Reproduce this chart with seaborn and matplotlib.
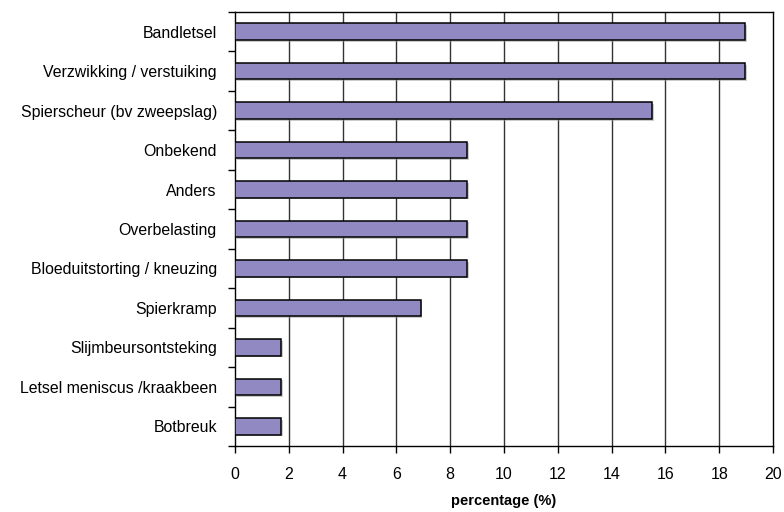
import matplotlib
matplotlib.use("Agg")
import matplotlib.pyplot as plt
import matplotlib.patheffects as pe
import seaborn as sns
import pandas as pd
import numpy as np

categories = [
    "Bandletsel",
    "Verzwikking / verstuiking",
    "Spierscheur (bv zweepslag)",
    "Onbekend",
    "Anders",
    "Overbelasting",
    "Bloeduitstorting / kneuzing",
    "Spierkramp",
    "Slijmbeursontsteking",
    "Letsel meniscus /kraakbeen",
    "Botbreuk",
]
percentages = [18.97, 18.97, 15.52, 8.62, 8.62, 8.62, 8.62, 6.90, 1.72, 1.72, 1.72]
x_ticks = [0, 2, 4, 6, 8, 10, 12, 14, 16, 18, 20]

df = pd.DataFrame({"letsel": categories, "percentage": percentages})

sns.set_theme(style="white")
plt.rcParams["font.family"] = ["Liberation Sans", "DejaVu Sans"]
plt.rcParams["text.color"] = "black"
plt.rcParams["xtick.color"] = "black"
plt.rcParams["ytick.color"] = "black"
plt.rcParams["axes.labelcolor"] = "black"

fig = plt.figure(figsize=(7.84, 5.12), dpi=100)
ax = fig.add_axes([0.2997, 0.1289, 0.6863, 0.8477])

sns.barplot(data=df, x="percentage", y="letsel", orient="h", order=categories,
            color="#9189C2", saturation=1, width=0.42, edgecolor="black",
            linewidth=1.1, ax=ax, zorder=3)

for p in ax.patches:
    p.set_path_effects([pe.SimplePatchShadow(offset=(1.2, -1.2), shadow_rgbFace="#999999", alpha=0.5),
                        pe.Normal()])

ax.set_xlim(0, 20)
ax.set_ylim(len(categories) - 0.5, -0.5)
ax.set_xticks(x_ticks)
ax.set_xticklabels([str(t) for t in x_ticks], fontsize=11.5)

# vertical gridlines
for t in x_ticks[1:-1]:
    ax.axvline(t, color="#333333", linewidth=1.0, zorder=1)

# category labels without ticks, boundary tick marks instead
ax.set_yticks(range(len(categories)))
ax.set_yticklabels(categories, fontsize=11.4)
ax.tick_params(axis="y", which="major", length=0, pad=13)
ax.set_yticks(np.arange(-0.5, len(categories), 1.0), minor=True)
ax.tick_params(axis="y", which="minor", length=5, width=1, color="black", left=True)
ax.tick_params(axis="x", which="major", length=5, width=1, color="black", bottom=True, pad=10)

for s in ax.spines.values():
    s.set_visible(True)
    s.set_color("black")
    s.set_linewidth(1.0)

ax.set_ylabel("")
ax.set_xlabel("percentage (%)", fontsize=10.5, fontweight="bold", labelpad=9)

fig.savefig("out.png", dpi=100)
